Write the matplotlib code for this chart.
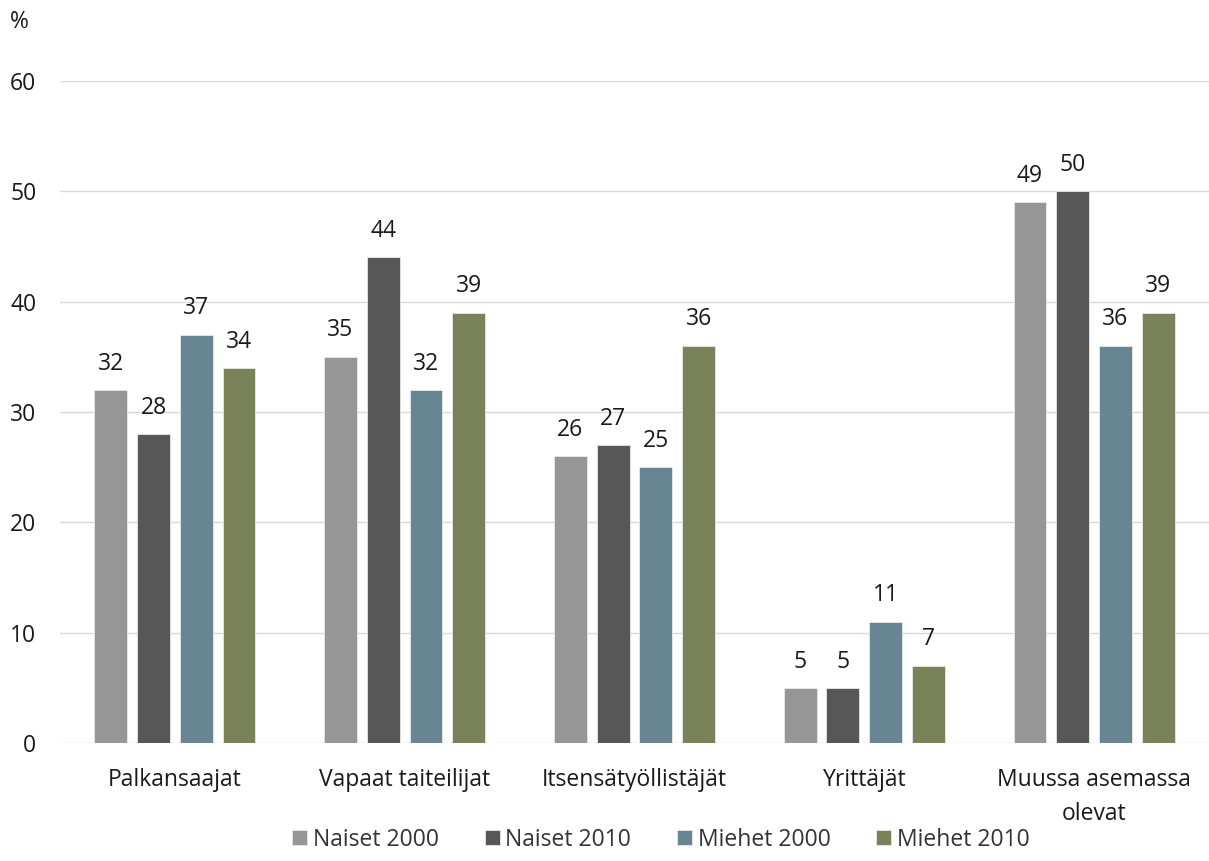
import matplotlib.pyplot as plt
import numpy as np

plt.rcParams['font.family'] = ['Open Sans', 'DejaVu Sans']

categories = ['Palkansaajat', 'Vapaat taiteilijat', 'Itsensätyöllistäjät',
              'Yrittäjät', 'Muussa asemassa\nolevat']
series = ['Naiset 2000', 'Naiset 2010', 'Miehet 2000', 'Miehet 2010']
naiset_2000 = [32, 35, 26, 5, 49]
naiset_2010 = [28, 44, 27, 5, 50]
miehet_2000 = [37, 32, 25, 11, 36]
miehet_2010 = [34, 39, 36, 7, 39]
values = [naiset_2000, naiset_2010, miehet_2000, miehet_2010]
colors = ['#969696', '#575757', '#688594', '#7a8259']

fs = 16.5
fig = plt.figure(figsize=(12.09, 8.61), dpi=100)
ax = fig.add_axes([0.0496, 0.137, 0.9504, 0.769])

x = np.arange(len(categories))
width = 0.143
step = 0.186
for i, (name, vals, c) in enumerate(zip(series, values, colors)):
    pos = x + (i - 1.5) * step
    bars = ax.bar(pos, vals, width, color=c, label=name, edgecolor='#e8e8e8',
                  linewidth=0.6, zorder=3)
    for b, v in zip(bars, vals):
        ax.text(b.get_x() + b.get_width() / 2, v + 1.3, str(v), ha='center',
                va='bottom', fontsize=fs, color='#1a1a1a')

ax.set_ylim(0, 60)
ax.set_xlim(-0.5, len(categories) - 0.5)
ax.set_yticks(range(0, 61, 10))
ax.yaxis.grid(True, color='#d9d9d9', linewidth=1, zorder=0)
for s in ax.spines.values():
    s.set_visible(False)
ax.tick_params(axis='both', length=0, labelsize=fs, labelcolor='#1a1a1a')
ax.tick_params(axis='y', pad=17)
ax.tick_params(axis='x', pad=18)
ax.set_xticks(x)
ax.set_xticklabels(categories, linespacing=1.55)

fig.text(0.008, 0.974, '%', fontsize=fs, va='center', color='#1a1a1a')

ax.legend(loc='center', bbox_to_anchor=(0.523, -0.146), ncol=4, frameon=False,
          fontsize=fs, handlelength=0.65, handleheight=0.65, handletextpad=0.25,
          columnspacing=2.0, labelcolor='#333333')

fig.savefig('out.png', dpi=100)
